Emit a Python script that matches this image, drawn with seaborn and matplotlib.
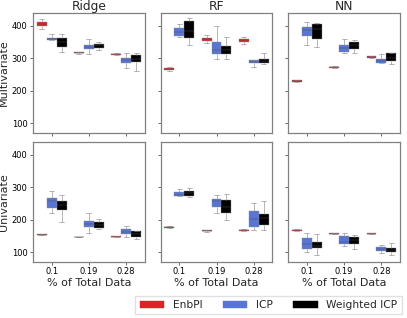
import numpy as np
import pandas as pd
import matplotlib
matplotlib.use("Agg")
import matplotlib.pyplot as plt
import seaborn as sns

# categories
fractions = ["0.1", "0.19", "0.28"]
methods = ["EnbPI", "ICP", "Weighted ICP"]
models = ["Ridge", "RF", "NN"]
rows = ["Multivariate", "Univariate"]

# each box: [min, q1, median, q3, max] per fraction
ridge_multi_enbpi = [[390, 400, 406, 411, 420], [314, 315, 317, 318, 319], [309, 310, 312, 314, 315]]
ridge_multi_icp = [[355, 356, 360, 363, 373], [312, 328, 335, 342, 358], [270, 284, 294, 302, 315]]
ridge_multi_wicp = [[320, 335, 350, 363, 376], [325, 332, 340, 345, 349], [261, 287, 298, 309, 315]]

rf_multi_enbpi = [[262, 264, 268, 271, 274], [348, 354, 358, 363, 371], [345, 351, 355, 359, 364]]
rf_multi_icp = [[364, 369, 381, 392, 405], [299, 313, 325, 351, 399], [274, 285, 289, 293, 293]]
rf_multi_wicp = [[340, 361, 385, 414, 423], [299, 313, 325, 337, 364], [281, 285, 291, 299, 317]]

nn_multi_enbpi = [[226, 227, 230, 233, 234], [270, 271, 272, 274, 275], [300, 301, 303, 306, 308]]
nn_multi_icp = [[342, 368, 386, 395, 410], [315, 320, 332, 341, 359], [284, 286, 291, 296, 312]]
nn_multi_wicp = [[333, 358, 390, 405, 407], [317, 327, 340, 350, 356], [281, 291, 300, 315, 315]]

ridge_uni_enbpi = [[152, 153, 154, 155, 156], [146, 146, 147, 148, 148], [147, 147, 148, 149, 149]]
ridge_uni_icp = [[221, 235, 259, 267, 288], [158, 178, 186, 195, 221], [148, 156, 164, 171, 181]]
ridge_uni_wicp = [[193, 229, 245, 257, 276], [172, 176, 185, 192, 202], [141, 147, 155, 165, 167]]

rf_uni_enbpi = [[174, 175, 177, 179, 180], [164, 165, 167, 168, 169], [166, 167, 168, 170, 171]]
rf_uni_icp = [[274, 274, 277, 287, 295], [221, 239, 257, 264, 276], [170, 177, 202, 226, 252]]
rf_uni_wicp = [[270, 272, 282, 290, 298], [200, 220, 240, 262, 279], [170, 185, 205, 218, 259]]

nn_uni_enbpi = [[166, 167, 168, 170, 171], [155, 156, 157, 158, 159], [155, 156, 157, 158, 159]]
nn_uni_icp = [[102, 111, 124, 144, 159], [119, 125, 132, 151, 160], [98, 103, 110, 115, 121]]
nn_uni_wicp = [[91, 112, 120, 131, 157], [110, 127, 138, 148, 152], [91, 102, 108, 114, 128]]

panels = {
    ("Multivariate", "Ridge"): (ridge_multi_enbpi, ridge_multi_icp, ridge_multi_wicp),
    ("Multivariate", "RF"): (rf_multi_enbpi, rf_multi_icp, rf_multi_wicp),
    ("Multivariate", "NN"): (nn_multi_enbpi, nn_multi_icp, nn_multi_wicp),
    ("Univariate", "Ridge"): (ridge_uni_enbpi, ridge_uni_icp, ridge_uni_wicp),
    ("Univariate", "RF"): (rf_uni_enbpi, rf_uni_icp, rf_uni_wicp),
    ("Univariate", "NN"): (nn_uni_enbpi, nn_uni_icp, nn_uni_wicp),
}

records = []
for (row, model), series in panels.items():
    for method, boxes in zip(methods, series):
        for frac, vals in zip(fractions, boxes):
            for v in vals:
                records.append(dict(row=row, model=model, method=method, frac=frac, value=v))
df = pd.DataFrame(records)

sns.set_style("white")
plt.rcParams["font.family"] = ["DejaVu Sans"]

palette = {"EnbPI": "#e02226", "ICP": "#5675d4", "Weighted ICP": "#000000"}

fig, axes = plt.subplots(2, 3, figsize=(4.07, 3.18), dpi=100, sharex=True, sharey=True)
fig.subplots_adjust(left=0.081, right=0.983, top=0.959, bottom=0.177, wspace=0.14, hspace=0.08)

for i, row in enumerate(rows):
    for j, model in enumerate(models):
        ax = axes[i, j]
        sub = df[(df.row == row) & (df.model == model)]
        sns.boxplot(data=sub, x="frac", y="value", hue="method", order=fractions,
                    hue_order=methods, palette=palette, whis=(0, 100), linecolor="0.55",
                    linewidth=0.3, saturation=1, ax=ax, legend=(i == 0 and j == 0),
                    medianprops=dict(color="0.3", linewidth=0.35),
                    whiskerprops=dict(linewidth=0.45), capprops=dict(linewidth=0.45))
        ax.set_ylim(71, 439)
        ax.set_yticks([100, 200, 300, 400])
        ax.tick_params(axis="both", labelsize=6, length=2.5, width=0.6, colors="0.3",
                       labelcolor="black", left=True, bottom=True, pad=1.5)
        for s in ax.spines.values():
            s.set_color("0.5")
            s.set_linewidth(0.9)
        if i == 0:
            ax.set_title(model, fontsize=8.8, pad=2)
            ax.set_xlabel("")
        else:
            ax.set_xlabel("% of Total Data", fontsize=8, labelpad=1)
        if j == 0:
            ax.set_ylabel(row, fontsize=8, labelpad=2)
        else:
            ax.set_ylabel("")

handles, labels = axes[0, 0].get_legend_handles_labels()
axes[0, 0].get_legend().remove()
for h in handles:
    h.set_edgecolor(h.get_facecolor())
fig.legend(handles, labels, loc="lower right", bbox_to_anchor=(1.0, -0.005), ncol=3,
           fontsize=7.7, frameon=True, handlelength=2.3, handleheight=0.6,
           columnspacing=1.9, handletextpad=0.8, borderpad=0.4, fancybox=False,
           edgecolor="0.85")

fig.savefig("out.png", dpi=100)
